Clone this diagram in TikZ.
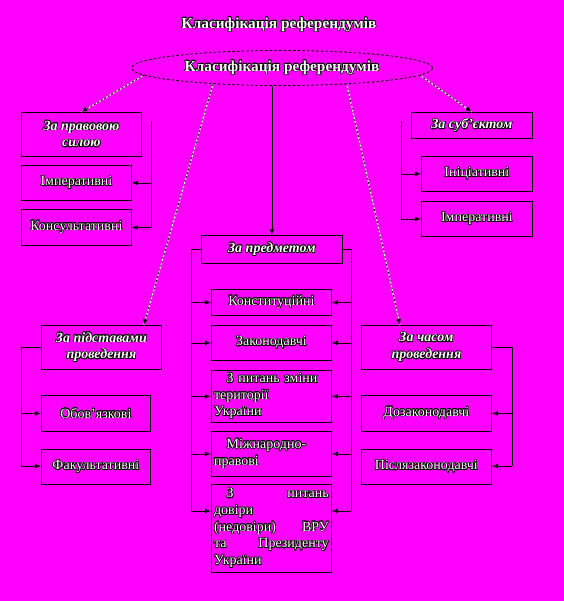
\documentclass[tikz,border=0pt]{standalone}
\usepackage{fontspec}
\setmainfont{Liberation Serif}
\usepackage[copies]{contour}
\contourlength{0.45pt}
\usetikzlibrary{shapes.geometric,arrows.meta,calc}
\definecolor{bgpink}{RGB}{255,0,255}
\newcommand\ot[1]{\contour{black}{#1}}

\begin{document}
\begin{tikzpicture}[x=0.75pt,y=-0.75pt,
  box/.style={draw=black,line width=0.6pt,anchor=north west,inner sep=2pt,text=white,align=center,font=\fontsize{10.5}{12.5}\selectfont},
  head/.style={box,font=\fontsize{10.5}{12.5}\selectfont\bfseries\itshape},
  para/.style={box,align=left,text width=86pt},
  arr/.style={-{Latex[length=4.5pt,width=3.5pt]},line width=0.6pt},
  dashlink/.style={arr,preaction={draw=white,line width=0.8pt,-},draw=black,dash pattern=on 1.5pt off 1.5pt}]
\fill[bgpink] (0,0) rectangle (564,601);
\useasboundingbox (0,0) rectangle (564,601);

% title and ellipse
\node[text=white,font=\fontsize{11.5}{13}\selectfont\bfseries] (title) at (279,25) {\ot{Класифікація референдумів}};
\node[ellipse,draw=black,dash pattern=on 2pt off 1.5pt,line width=0.6pt,minimum width=225.75pt,minimum height=26.25pt,inner sep=0pt,text=white,font=\fontsize{11.5}{13}\selectfont\bfseries] (ell) at (282,68) {\ot{Класифікація референдумів}};

% left top group
\node[head,minimum width=90pt,minimum height=33pt] (sila) at (21,112) {\ot{За правовою}\\\ot{силою}};
\node[box,minimum width=82.5pt,minimum height=26.25pt] (imp1) at (21,165) {\ot{Імперативні}};
\node[box,minimum width=82.5pt,minimum height=27pt] (kons) at (21,209) {\ot{Консультативні}};
\coordinate (brA) at (151,121);
\draw[arr] (brA) |- (imp1.east);
\draw[arr] (brA) |- (kons.east);

% right top group
\node[head,minimum width=90.75pt,minimum height=19.5pt] (subj) at (411,112) {\ot{За суб'єктом}};
\node[box,minimum width=83.25pt,minimum height=26.25pt] (inic) at (421,156) {\ot{Ініціативні}};
\node[box,minimum width=83.25pt,minimum height=26.25pt] (imp2) at (421,201) {\ot{Імперативні}};
\coordinate (brB) at (401,121);
\draw[arr] (brB) |- (inic.west);
\draw[arr] (brB) |- (imp2.west);

% centre group
\node[head,minimum width=105.75pt,minimum height=21pt] (predm) at (201,235) {\ot{За предметом}};
\node[box,minimum width=90pt,minimum height=19.5pt] (konst) at (211,289) {\ot{Конституційні}};
\node[box,minimum width=90pt,minimum height=26.25pt] (zakon) at (211,325) {\ot{Законодавчі}};
\node[para,minimum height=39pt] (teryt) at (211,370) {\hspace*{0.9em}\ot{З питань зміни}\\\ot{території}\\\ot{України}};
\node[para,minimum height=33.75pt] (mizhn) at (211,431) {\hspace*{0.9em}\ot{Міжнародно-}\\\ot{правові}};
\node[para,minimum height=66pt] (dovira) at (211,484) {\hspace*{0.9em}\ot{З}\hfill\ot{питань}\\\ot{довіри}\\\ot{(недовіри)}\hfill\ot{ВРУ}\\\ot{та}\hfill\ot{Президенту}\\\ot{України}};
\coordinate (brL) at (191,511);
\coordinate (brR) at (351,511);
\draw[line width=0.6pt] (predm.west) -| (brL);
\draw[line width=0.6pt] (predm.east) -| (brR);
\foreach \b in {konst,zakon,teryt,mizhn} {
  \draw[arr] (\b.west -| brL) -- (\b.west);
  \draw[arr] (\b.east -| brR) -- (\b.east);
}
\draw[arr] (brL) -- (brL -| dovira.west);
\draw[arr] (brR) -- (brR -| dovira.east);

% left bottom group
\node[head,minimum width=90pt,minimum height=33pt] (pidst) at (41,325) {\ot{За підставами}\\\ot{проведення}};
\node[box,minimum width=81.75pt,minimum height=27pt] (obov) at (41,395) {\ot{Обов'язкові}};
\node[box,minimum width=81.75pt,minimum height=26.25pt] (fakult) at (41,449) {\ot{Факультативні}};
\coordinate (brC) at (21,466);
\draw[line width=0.6pt] (pidst.west) -| (brC);
\draw[arr] (obov.west -| brC) -- (obov.west);
\draw[arr] (brC) -- (brC -| fakult.west);

% right bottom group
\node[head,minimum width=97.5pt,minimum height=33pt] (chas) at (361,325) {\ot{За часом}\\\ot{проведення}};
\node[box,minimum width=97.5pt,minimum height=27pt] (dozak) at (361,395) {\ot{Дозаконодавчі}};
\node[box,minimum width=97.5pt,minimum height=26.25pt] (pislya) at (361,449) {\ot{Післязаконодавчі}};
\coordinate (brD) at (512,466);
\draw[line width=0.6pt] (chas.east) -| (brD);
\draw[arr] (dozak.east -| brD) -- (dozak.east);
\draw[arr] (brD) -- (brD -| pislya.east);

% links from the ellipse
\draw[dashlink] (ell.183) -- (sila.north);
\draw[dashlink] (ell.357) -- (subj.north);
\draw[arr] (ell.south -| predm.north) -- (predm.north);
\draw[dashlink] (ell.193) -- ($(pidst.north east)+(-18,0)$);
\draw[dashlink] (ell.346) -- ($(chas.north west)+(39,0)$);
\end{tikzpicture}
\end{document}
